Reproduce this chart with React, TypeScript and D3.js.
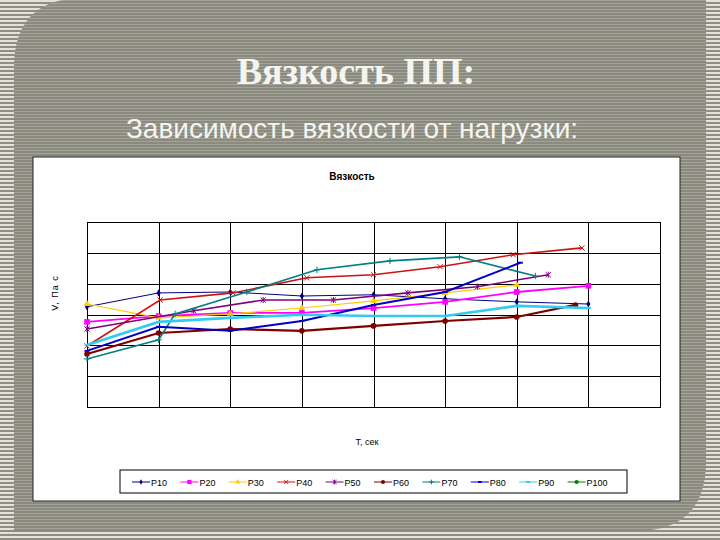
import { useEffect, useRef } from 'react'
import * as d3 from 'd3'

// series (arbitrary units, no tick labels in the source)
const seriesNames = ['P10', 'P20', 'P30', 'P40', 'P50', 'P60', 'P70', 'P80', 'P90', 'P100']
const times = [0, 1, 2, 3, 4, 5, 6, 7]

const p10 = [3.25, 3.7, 3.73, 3.6, 3.64, 3.51, 3.41, 3.34]
const p20 = [2.76, 2.95, 3.05, 3.05, 3.21, 3.41, 3.73, 3.93]
const p30 = [3.34, 2.89, 3.02, 3.21, 3.44, 3.7, 3.96]
const p40x = [0, 1.02, 2.04, 3.07, 4.0, 4.93, 5.95, 6.91]
const p40 = [1.98, 3.47, 3.7, 4.19, 4.29, 4.55, 4.94, 5.16]
const p50x = [0, 1.49, 2.46, 3.44, 4.48, 5.45, 6.44]
const p50 = [2.53, 3.12, 3.47, 3.47, 3.7, 3.9, 4.29]
const p60x = [0, 1, 2, 3, 4, 5, 6, 6.82]
const p60 = [1.72, 2.4, 2.53, 2.47, 2.63, 2.79, 2.92, 3.31]
const p70x = [0, 1, 1.23, 2.23, 3.21, 4.23, 5.2, 6.26]
const p70 = [1.56, 2.18, 3.02, 3.73, 4.45, 4.74, 4.87, 4.25]
const p80x = [0, 1, 2, 3, 4, 5, 6.05]
const p80 = [1.82, 2.6, 2.47, 2.79, 3.31, 3.73, 4.68]
const p90 = [2.01, 2.76, 2.89, 2.99, 2.95, 2.95, 3.28, 3.21]
const p100: number[] = []

const seriesX = [times, times, times, p40x, p50x, p60x, p70x, p80x, times, times]
const seriesY = [p10, p20, p30, p40, p50, p60, p70, p80, p90, p100]

const colors = ['#000080', '#ff00ff', '#ffcc00', '#d01010', '#800080', '#800000', '#008080', '#0000c8', '#33ccee', '#008000']
const widths = [1, 1.8, 1.2, 1.6, 1.6, 2.2, 1.6, 2, 2.6, 1.5]
const markers = ['diamond', 'square', 'triangle', 'x', 'star', 'circle', 'plus', 'dash', 'dash', 'circle']

type Pt = { x: number; y: number }

function drawMarker(g: d3.Selection<SVGGElement, unknown, null, undefined>, kind: string, cx: number, cy: number, color: string, s = 1) {
  if (kind === 'diamond') {
    g.append('path').attr('d', d3.symbol(d3.symbolDiamond, 15 * s * s)()).attr('transform', `translate(${cx},${cy})`).attr('fill', color)
  } else if (kind === 'square') {
    const h = 2.8 * s
    g.append('rect').attr('x', cx - h).attr('y', cy - h).attr('width', 2 * h).attr('height', 2 * h).attr('fill', color)
  } else if (kind === 'triangle') {
    g.append('path').attr('d', d3.symbol(d3.symbolTriangle, 20 * s * s)()).attr('transform', `translate(${cx},${cy})`).attr('fill', color)
  } else if (kind === 'circle') {
    g.append('circle').attr('cx', cx).attr('cy', cy).attr('r', 2.8 * s).attr('fill', color)
  } else if (kind === 'x') {
    const h = 2.6 * s
    g.append('path').attr('d', `M${cx - h},${cy - h}L${cx + h},${cy + h}M${cx - h},${cy + h}L${cx + h},${cy - h}`)
      .attr('stroke', color).attr('stroke-width', 1)
  } else if (kind === 'star') {
    const h = 2.6 * s
    g.append('path').attr('d', `M${cx - h},${cy - h}L${cx + h},${cy + h}M${cx - h},${cy + h}L${cx + h},${cy - h}M${cx},${cy - h - 0.5}L${cx},${cy + h + 0.5}`)
      .attr('stroke', color).attr('stroke-width', 1)
  } else if (kind === 'plus') {
    const h = 3.2 * s
    g.append('path').attr('d', `M${cx - h},${cy}L${cx + h},${cy}M${cx},${cy - h}L${cx},${cy + h}`)
      .attr('stroke', color).attr('stroke-width', 1)
  } else if (kind === 'dash') {
    const h = 2.5 * s
    g.append('path').attr('d', `M${cx - h},${cy}L${cx + h},${cy}`).attr('stroke', color).attr('stroke-width', 2)
  }
}

export default function App() {
  const svgRef = useRef<SVGSVGElement>(null)

  useEffect(() => {
    const svg = svgRef.current
    if (!svg) return
    const root = d3.select(svg)
    root.selectAll('*').remove()

    const W = 720, H = 540
    root.attr('width', W).attr('height', H)

    // striped slide background
    const defs = root.append('defs')
    const outer = defs.append('pattern').attr('id', 'outerStripes').attr('patternUnits', 'userSpaceOnUse')
      .attr('width', 8).attr('height', 4)
    outer.append('rect').attr('width', 8).attr('height', 4).attr('fill', '#8e8e84')
    outer.append('rect').attr('width', 8).attr('height', 2).attr('fill', '#e2e2da')
    const inner = defs.append('pattern').attr('id', 'innerStripes').attr('patternUnits', 'userSpaceOnUse')
      .attr('width', 8).attr('height', 3)
    inner.append('rect').attr('width', 8).attr('height', 3).attr('fill', '#8a8a7e')
    inner.append('rect').attr('width', 8).attr('height', 1).attr('fill', '#a4a49a')

    root.append('rect').attr('width', W).attr('height', H).attr('fill', 'url(#outerStripes)')
    const L = 14, T = -2, R = 706, B = 531, r1 = 70, r2 = 70
    root.append('path')
      .attr('d', `M${L},${T + r1}Q${L},${T} ${L + r1},${T}L${R},${T}L${R},${B - r2}Q${R},${B} ${R - r2},${B}L${L},${B}Z`)
      .attr('fill', 'url(#innerStripes)')

    root.append('text').attr('x', 356).attr('y', 84).attr('text-anchor', 'middle')
      .attr('font-family', '"Liberation Serif", "Times New Roman", serif').attr('font-weight', 'bold')
      .attr('font-size', 38).attr('fill', '#f4f4f0').text('Вязкость ПП:')
    root.append('text').attr('x', 352).attr('y', 138).attr('text-anchor', 'middle')
      .attr('font-family', '"Liberation Sans", Arial, sans-serif')
      .attr('font-size', 28).attr('fill', '#f4f4f0').text('Зависимость вязкости от нагрузки:')

    // chart area
    root.append('rect').attr('x', 33).attr('y', 157).attr('width', 647).attr('height', 344)
      .attr('fill', '#ffffff').attr('stroke', '#222').attr('stroke-width', 1)

    const font = '"Liberation Sans", Arial, sans-serif'
    root.append('text').attr('x', 352).attr('y', 180).attr('text-anchor', 'middle')
      .attr('font-family', font).attr('font-weight', 'bold').attr('font-size', 10).attr('fill', '#000').text('Вязкость')

    const x = d3.scaleLinear().domain([0, 8]).range([87, 660])
    const y = d3.scaleLinear().domain([0, 6]).range([407, 222])

    const grid = root.append('g').attr('shape-rendering', 'crispEdges')
    grid.append('g').attr('transform', `translate(0,${y(0)})`)
      .call(d3.axisBottom(x).ticks(8).tickSize(-(y(0) - y(6))).tickFormat(() => ''))
    grid.append('g').attr('transform', `translate(${x(0)},0)`)
      .call(d3.axisLeft(y).ticks(6).tickSize(-(x(8) - x(0))).tickFormat(() => ''))
    grid.selectAll('.domain').remove()
    grid.selectAll('line').attr('stroke', '#000').attr('stroke-width', 1)
    grid.append('rect').attr('x', x(0)).attr('y', y(6)).attr('width', x(8) - x(0)).attr('height', y(0) - y(6))
      .attr('fill', 'none').attr('stroke', '#000')

    const line = d3.line<Pt>().x(d => x(d.x)).y(d => y(d.y))
    const plot = root.append('g')
    seriesNames.forEach((name, i) => {
      const pts: Pt[] = seriesY[i].map((v, j) => ({ x: seriesX[i][j], y: v }))
      if (!pts.length) return
      plot.append('path').datum(pts).attr('fill', 'none').attr('stroke', colors[i])
        .attr('stroke-width', widths[i]).attr('d', line)
      const mg = plot.append('g')
      pts.forEach(p => drawMarker(mg, markers[i], x(p.x), y(p.y), colors[i]))
    })

    root.append('text').attr('transform', 'translate(58,293) rotate(-90)').attr('text-anchor', 'middle')
      .attr('font-family', font).attr('font-size', 9).attr('letter-spacing', 1).attr('fill', '#000').text('V, Па с')
    root.append('text').attr('x', 367).attr('y', 445).attr('text-anchor', 'middle')
      .attr('font-family', font).attr('font-size', 9).attr('fill', '#000').text('T, сек')

    // legend
    const lg = root.append('g')
    lg.append('rect').attr('x', 120).attr('y', 470).attr('width', 507).attr('height', 23)
      .attr('fill', '#fff').attr('stroke', '#000').attr('stroke-width', 1)
    seriesNames.forEach((name, i) => {
      const tx = 150 + i * 48.4
      const ly = 482
      lg.append('line').attr('x1', tx - 18).attr('x2', tx).attr('y1', ly).attr('y2', ly)
        .attr('stroke', colors[i]).attr('stroke-width', 1)
      drawMarker(lg, markers[i], tx - 9, ly, colors[i], 0.75)
      lg.append('text').attr('x', tx + 1).attr('y', ly + 3.5).attr('font-family', font)
        .attr('font-size', 9).attr('fill', '#000').text(name)
    })
  }, [])

  return <svg ref={svgRef} style={{ position: 'absolute', left: 0, top: 0 }} />
}
